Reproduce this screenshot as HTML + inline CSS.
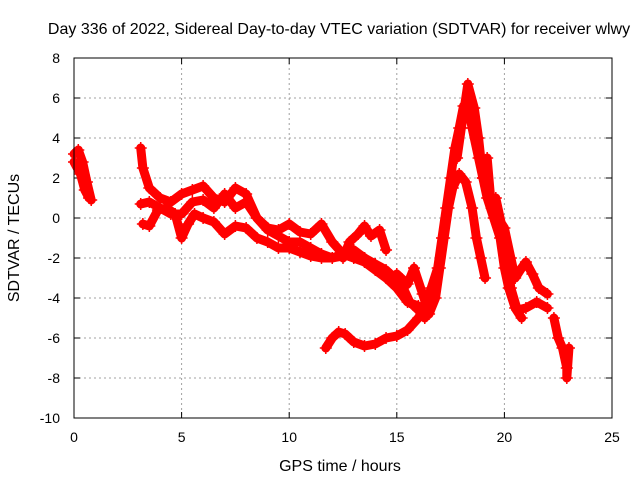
<!DOCTYPE html>
<html><head><meta charset="utf-8"><style>
body{margin:0;background:#fff;}
svg text{font-family:"Liberation Sans",sans-serif;font-size:14px;fill:#000;}
svg text.big{font-size:16px;}
</style></head><body>
<svg id="chart" width="640" height="480">
<text class="big" x="339" y="34" text-anchor="middle">Day 336 of 2022, Sidereal Day-to-day VTEC variation (SDTVAR) for receiver wlwy</text>
<text class="big" x="340" y="471" text-anchor="middle">GPS time / hours</text>
<text class="big" transform="translate(19,238) rotate(-90)" text-anchor="middle">SDTVAR / TECUs</text>
<g id="grid"></g><g id="ticks"></g><g id="series"></g>
<rect x="74" y="58" width="538" height="360" fill="none" stroke="#000" stroke-width="1"/>
</svg>
<script>
const xTicks=[0,5,10,15,20,25];
const yTicks=[-10,-8,-6,-4,-2,0,2,4,6,8];
const trackA1=[[0,3.2],[0.2,3.4],[0.4,2.8],[0.6,1.8],[0.8,0.9]];
const trackA2=[[0,2.8],[0.3,2.2],[0.5,1.4],[0.7,1.0]];
const trackB1=[[3.1,3.5],[3.2,2.5],[3.5,1.5],[4,1],[4.5,0.8],[5,1.2],[5.5,1.4],[6,1.6],[6.5,1.0],[7,0.8],[7.5,1.5],[8,1.2],[8.5,0],[9,-0.6],[9.5,-0.9],[10,-1.2],[10.5,-1.2],[11,-1.5],[11.5,-1.8],[12,-2],[12.5,-1.9],[13,-1.6],[13.5,-2.0]];
const trackB2=[[3.1,0.7],[3.5,0.8],[4,0.5],[4.5,0.2],[5,0.2],[5.5,0.8],[6,0.9],[6.5,0.5],[7,1.2],[7.5,0.5],[8,0.8],[8.5,0],[9,-0.5],[9.5,-0.6],[10,-0.3],[10.5,-0.7],[11,-0.8],[11.5,-0.3],[12,-1.2],[12.5,-1.8],[13,-2],[13.5,-2.0],[14,-2.3],[14.5,-2.6],[15,-3.1],[15.3,-3.5],[15.6,-4.2],[16,-4.6],[16.3,-5.0]];
const trackB3=[[3.2,-0.3],[3.5,-0.4],[3.9,0.4],[4.3,0.5],[4.7,0.2],[5,-1],[5.3,-0.3],[5.6,0.2],[6,0],[6.5,-0.2],[7,-0.8],[7.5,-0.4],[8,-0.5],[8.5,-1],[9,-1.2],[9.5,-1.5],[10,-1.5],[10.5,-1.7],[11,-1.9],[11.5,-2],[12,-2],[12.5,-1.8],[13,-2.0],[13.5,-2.2],[14,-2.6],[14.5,-3.0],[15,-3.5],[15.5,-4.2],[16,-4.4]];
const trackC=[[12.5,-2],[12.8,-1.2],[13.2,-0.8],[13.5,-0.4],[13.8,-0.9],[14.2,-0.6],[14.5,-1.6]];
const trackD=[[11.7,-6.5],[12,-6],[12.3,-5.7],[12.6,-5.8],[13,-6.2],[13.5,-6.4],[14,-6.3],[14.5,-6.0],[15,-5.9],[15.5,-5.6],[16,-5.0],[16.3,-4.5],[16.6,-3.5],[16.9,-2.5],[17.1,-1],[17.3,0.5],[17.5,2],[17.7,3.5],[17.9,4.5],[18.1,5.6],[18.3,5.6],[18.5,4.5],[18.8,3],[19,2],[19.2,1],[19.5,0],[19.8,-1],[20,-2.5],[20.2,-3.5],[20.5,-4.5],[20.8,-5.0]];
const trackE=[[15,-2.8],[15.5,-3.3],[15.8,-2.5],[16.2,-3.8],[16.5,-4.8],[16.8,-4],[17,-2.5],[17.2,-1],[17.4,0.5],[17.6,1.5],[17.9,2.2],[18.2,1.8],[18.5,0.5],[18.7,-1],[18.9,-2],[19.1,-3]];
const trackF=[[17.8,3],[18,4.5],[18.3,6.7],[18.6,5.5],[18.8,4.0],[19,2],[19.3,1],[19.5,0.5],[19.7,0],[20,-0.5],[20.3,-2],[20.5,-3],[20.8,-2.5],[21,-2.2],[21.3,-2.8],[21.6,-3.5],[22,-3.8]];
const trackG=[[19.2,3],[19.4,0.5],[19.6,1.0],[20,-1],[20.3,-3.5],[20.6,-4.6],[21,-4.5],[21.5,-4.2],[22,-4.5]];
const trackH=[[22.3,-5],[22.5,-6],[22.7,-6.5],[22.9,-7.5],[22.9,-8],[23,-6.5]];
const tracks=[trackA1,trackA2,trackB1,trackB2,trackB3,trackC,trackD,trackE,trackF,trackG,trackH];
const trackNames=['a1','a2','b1','b2','b3','c','d','e','f','g','h'];

const X0=74,X1=612,Y0=418,Y1=58;
const xs=v=>X0+(v-0)/(25-0)*(X1-X0);
const ys=v=>Y0-(v+10)/(18)*(Y0-Y1);
const NS='http://www.w3.org/2000/svg';
function mk(t,a,p){const e=document.createElementNS(NS,t);for(const k in a)e.setAttribute(k,a[k]);p.appendChild(e);return e;}
const grid=document.getElementById('grid'),ticks=document.getElementById('ticks'),ser=document.getElementById('series');
xTicks.forEach(t=>{const x=xs(t);
 if(t>0&&t<25){const g=mk('line',{x1:x,x2:x,y1:Y1,y2:Y0,stroke:'#a0a0a0','stroke-dasharray':'2,3'},grid);
 
 }
 mk('line',{x1:x,x2:x,y1:Y0,y2:Y0-6,stroke:'#000'},ticks);
 mk('line',{x1:x,x2:x,y1:Y1,y2:Y1+6,stroke:'#000'},ticks);
 const l=mk('text',{x:x,y:Y0+24,'text-anchor':'middle'},ticks);l.textContent=t;
 
 });
yTicks.forEach(t=>{const y=ys(t);
 if(t>-10&&t<8){const g=mk('line',{x1:X0,x2:X1,y1:y,y2:y,stroke:'#a0a0a0','stroke-dasharray':'2,3'},grid);
 
 }
 mk('line',{x1:X0,x2:X0+6,y1:y,y2:y,stroke:'#000'},ticks);
 mk('line',{x1:X1,x2:X1-6,y1:y,y2:y,stroke:'#000'},ticks);
 const l=mk('text',{x:X0-14,y:y+5,'text-anchor':'end'},ticks);l.textContent=t;
 
 });
tracks.forEach((tr,i)=>{
 const g=mk('g',{},ser);
 
 
 mk('polyline',{points:tr.map(p=>xs(p[0])+','+ys(p[1])).join(' '),fill:'none',stroke:'#ff0000','stroke-width':9,'stroke-linejoin':'round','stroke-linecap':'round'},g);
 tr.forEach(p=>{const x=xs(p[0]),y=ys(p[1]);
  const m=mk('path',{d:`M${x-6},${y}H${x+6}M${x},${y-6}V${y+6}`,stroke:'#ff0000','stroke-width':1.5},g);
  
  });
});
</script>
</body></html>
